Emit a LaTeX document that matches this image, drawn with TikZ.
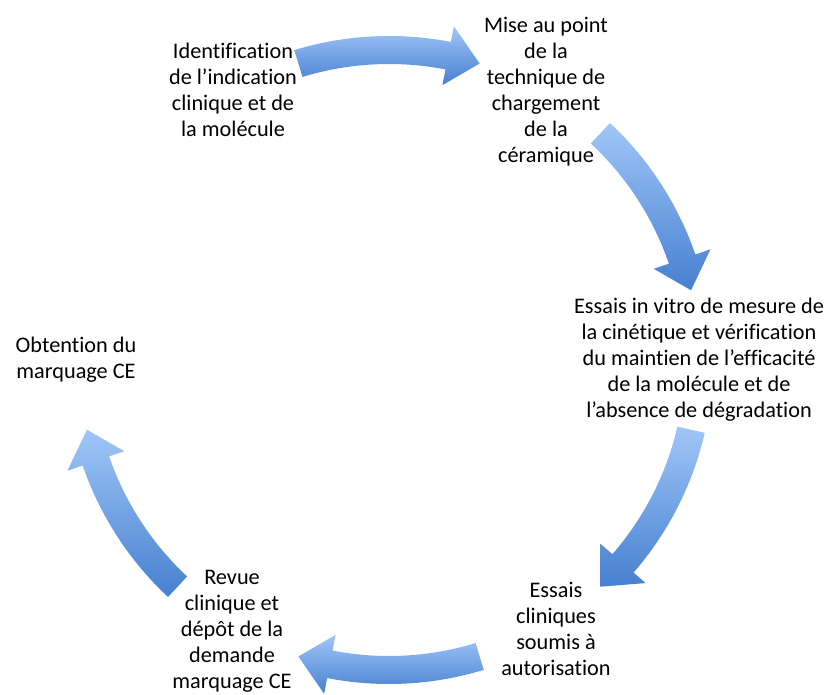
\documentclass[tikz,border=0pt]{standalone}
\usepackage{fontspec}
\setmainfont[Ligatures=NoCommon]{Carlito}
\usetikzlibrary{calc}

\definecolor{arrowlight}{RGB}{160,198,248}
\definecolor{arrowdark}{RGB}{70,128,208}

\tikzset{
  stage/.style={align=center, inner sep=0pt, font=\fontsize{19}{22.2}\selectfont},
  cyclearrow/.style={top color=arrowlight, bottom color=arrowdark, draw=none}
}

\begin{document}
\begin{tikzpicture}[x=0.03cm, y=0.03cm]
            \useasboundingbox (0,0) rectangle (840,694);
            \coordinate (C) at (389,334);

            \node[stage] (ident) at ($(C)+(120:310)+(-1,2)$) {Identification\\de l’indication\\clinique et de\\la molécule};
            \node[stage] (mise) at ($(C)+(60:310)+(2,0)$) {Mise au point\\de la\\technique de\\chargement\\de la\\céramique};
            \node[stage] (vitro) at ($(C)+(0:310)$) {Essais in vitro de mesure de\\la cinétique et vérification\\du maintien de l’efficacité\\de la molécule et de\\l’absence de dégradation};
            \node[stage] (cliniques) at ($(C)+(-60:310)+(12,0)$) {Essais\\cliniques\\soumis à\\autorisation};
            \node[stage] (revue) at ($(C)+(-120:310)+(-2,-3)$) {Revue\\clinique et\\dépôt de la\\demande\\marquage CE};
            \node[stage] (obtention) at ($(C)+(180:310)+(-3,0)$) {Obtention du\\marquage CE};

            \foreach \a in {90,30,-30,-90,-150} {
                \path[cyclearrow] ($(C)+(\a+17:324)$) arc[start angle=\a+17, end angle=\a-11, radius=324]
                    -- ($(C)+(\a-11:340)$) -- ($(C)+(\a-17:310)$) -- ($(C)+(\a-11:280)$)
                    -- ($(C)+(\a-11:296)$) arc[start angle=\a-11, end angle=\a+17, radius=296] -- cycle;
            }
        \end{tikzpicture}
\end{document}
